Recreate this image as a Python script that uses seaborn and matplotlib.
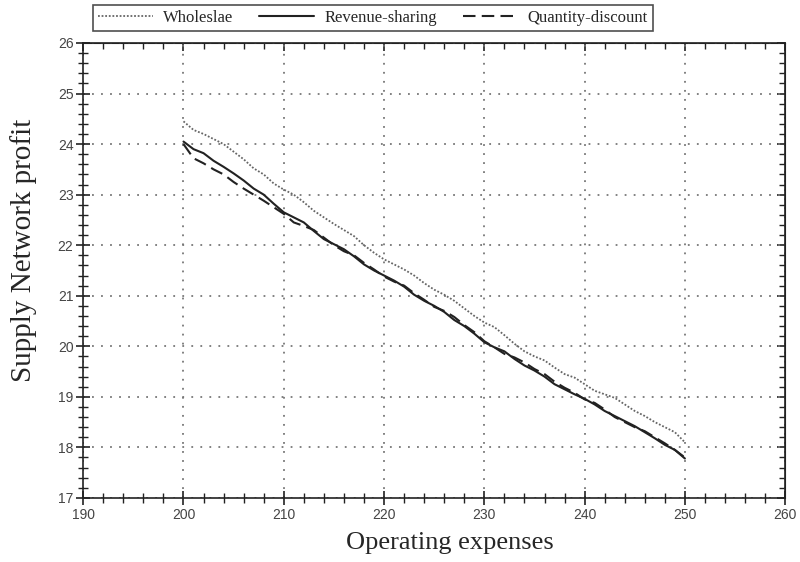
import matplotlib
matplotlib.use("Agg")
import matplotlib.pyplot as plt
from matplotlib.ticker import MultipleLocator
import numpy as np
import pandas as pd
import seaborn as sns

expenses = list(range(200, 251))

wholesale = [24.45, 24.28, 24.20, 24.10, 24.00, 23.85, 23.70, 23.52, 23.40, 23.22,
             23.10, 23.00, 22.85, 22.68, 22.55, 22.42, 22.30, 22.18, 22.00, 21.85,
             21.72, 21.62, 21.52, 21.40, 21.25, 21.12, 21.02, 20.90, 20.75, 20.60,
             20.47, 20.38, 20.22, 20.05, 19.90, 19.80, 19.72, 19.58, 19.45, 19.38,
             19.25, 19.12, 19.05, 18.98, 18.85, 18.72, 18.62, 18.50, 18.40, 18.30,
             18.10]

revenue_sharing = [24.05, 23.90, 23.82, 23.67, 23.55, 23.42, 23.28, 23.12, 23.00, 22.82,
                   22.65, 22.55, 22.45, 22.28, 22.12, 22.02, 21.92, 21.78, 21.62, 21.50,
                   21.40, 21.30, 21.18, 21.02, 20.90, 20.80, 20.68, 20.52, 20.40, 20.25,
                   20.08, 19.98, 19.90, 19.75, 19.62, 19.52, 19.40, 19.25, 19.15, 19.05,
                   18.96, 18.85, 18.72, 18.62, 18.52, 18.42, 18.30, 18.18, 18.05, 17.95,
                   17.78]

quantity_discount = [24.00, 23.72, 23.62, 23.50, 23.40, 23.25, 23.12, 23.00, 22.88, 22.75,
                     22.62, 22.45, 22.38, 22.30, 22.15, 22.00, 21.88, 21.80, 21.65, 21.52,
                     21.38, 21.28, 21.20, 21.05, 20.92, 20.78, 20.70, 20.58, 20.42, 20.28,
                     20.10, 19.98, 19.85, 19.78, 19.68, 19.55, 19.45, 19.30, 19.18, 19.08,
                     18.95, 18.88, 18.75, 18.60, 18.50, 18.40, 18.32, 18.20, 18.08, 17.95,
                     17.80]

series_names = ["Wholeslae", "Revenue-sharing", "Quantity-discount"]
x_ticks = [190, 200, 210, 220, 230, 240, 250, 260]
y_ticks = [17, 18, 19, 20, 21, 22, 23, 24, 25, 26]

sns.set_style("white")
plt.rcParams["font.family"] = ["Liberation Serif", "DejaVu Serif"]

fig = plt.figure(figsize=(8.0, 5.62), dpi=100)
ax = fig.add_axes([0.104, 0.114, 0.8775, 0.8095])

styles = [
    dict(color="#666666", linestyle=(0, (1, 1)), linewidth=1.3),
    dict(color="#222222", linestyle="-", linewidth=1.5),
    dict(color="#222222", linestyle=(0, (6, 3)), linewidth=1.5),
]
for name, vals, st in zip(series_names, [wholesale, revenue_sharing, quantity_discount], styles):
    df = pd.DataFrame({"x": expenses, "y": vals})
    sns.lineplot(data=df, x="x", y="y", ax=ax, label=name, **st)

ax.set_xlim(x_ticks[0], x_ticks[-1])
ax.set_ylim(y_ticks[0], y_ticks[-1])
ax.set_xticks(x_ticks)
ax.set_yticks(y_ticks)
ax.xaxis.set_minor_locator(MultipleLocator(2))
ax.yaxis.set_minor_locator(MultipleLocator(0.2))

ax.grid(True, which="major", color="#777777", linestyle=(0, (1, 4)), linewidth=1.3)
for sp in ax.spines.values():
    sp.set_visible(True)
    sp.set_color("#222222")
    sp.set_linewidth(1.2)

ax.tick_params(axis="both", which="major", direction="inout", length=10, width=1.2,
               colors="#222222", labelcolor="#444444", labelsize=10, pad=2,
               bottom=True, left=True, top=False, right=False)
ax.tick_params(axis="both", which="minor", direction="inout", length=7, width=1.0,
               colors="#222222", bottom=True, left=True, top=False, right=False)
for lab in ax.get_xticklabels() + ax.get_yticklabels():
    lab.set_fontfamily(["Liberation Sans", "DejaVu Sans"])

secx = ax.secondary_xaxis("top")
secx.set_xticks(x_ticks)
secx.xaxis.set_minor_locator(MultipleLocator(2))
secx.tick_params(which="major", direction="in", length=6, width=1.2, colors="#222222", labeltop=False)
secx.tick_params(which="minor", direction="in", length=4, width=1.0, colors="#222222")
secx.set_xticklabels([])
secy = ax.secondary_yaxis("right")
secy.set_yticks(y_ticks)
secy.yaxis.set_minor_locator(MultipleLocator(0.2))
secy.tick_params(which="major", direction="in", length=6, width=1.2, colors="#222222")
secy.tick_params(which="minor", direction="in", length=4, width=1.0, colors="#222222")
secy.set_yticklabels([])

ax.set_xlabel("Operating expenses", fontsize=19)
ax.set_ylabel("Supply Network profit", fontsize=21)
ax.xaxis.set_label_coords(0.523, -0.075)
ax.yaxis.set_label_coords(-0.066, 0.545)

ax.get_legend().remove()
handles, labels = ax.get_legend_handles_labels()
leg = fig.legend(handles, labels, loc="upper left", bbox_to_anchor=(93 / 800, 1 - 5 / 562),
                 ncol=3, frameon=True, fancybox=False, edgecolor="#222222",
                 fontsize=12, handlelength=3.3, columnspacing=1.55, handletextpad=0.6,
                 borderpad=0.3, borderaxespad=0)
leg.get_frame().set_linewidth(1.2)

fig.savefig("out.png", dpi=100, facecolor="white")
